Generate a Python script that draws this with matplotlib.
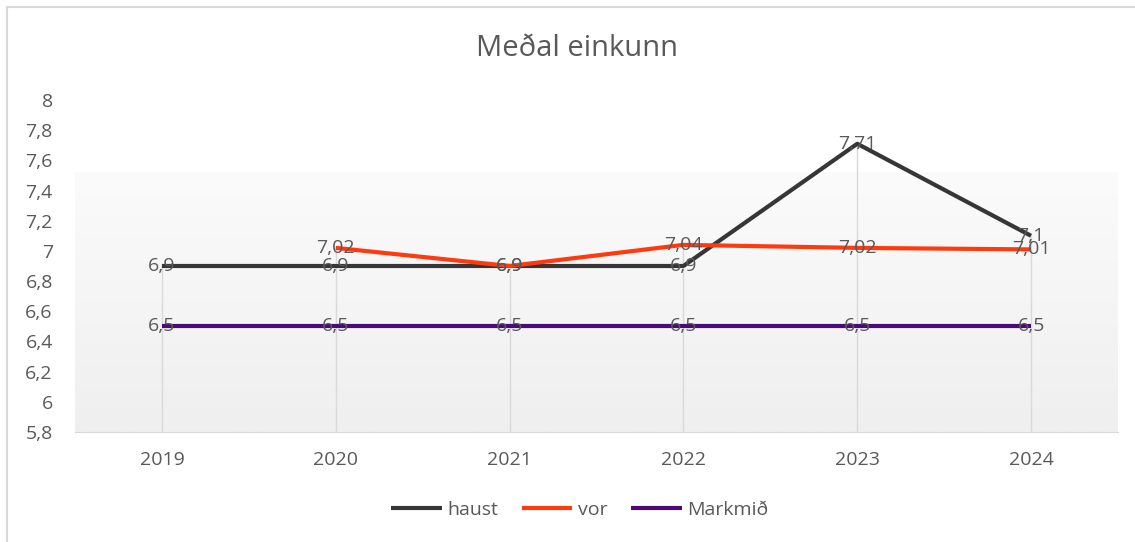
import numpy as np
import matplotlib.pyplot as plt
from matplotlib.patches import Rectangle
from matplotlib.colors import LinearSegmentedColormap
from matplotlib.ticker import FuncFormatter

plt.rcParams['font.family'] = ['Open Sans', 'DejaVu Sans']

# chart data
years = ['2019', '2020', '2021', '2022', '2023', '2024']
haust = [6.9, 6.9, 6.9, 6.9, 7.71, 7.1]
vor = [np.nan, 7.02, 6.9, 7.04, 7.02, 7.01]
markmid = [6.5, 6.5, 6.5, 6.5, 6.5, 6.5]

series = [('haust', haust, '#363636'),
          ('vor', vor, '#ff3a0f'),
          ('Markmið', markmid, '#4a0a78')]
text_col = '#595959'


def comma(v):
    return f'{v:g}'.replace('.', ',')


fig = plt.figure(figsize=(11.35, 5.42), dpi=100)
ax = fig.add_axes([75 / 1135, 1 - 432 / 542, (1118 - 75) / 1135, 332 / 542])
x = np.arange(len(years))

# chart border (only top and left edges fall inside the picture)
fig.patches.append(Rectangle((7 / 1135, -0.05), 1.2, 1 - 7 / 542 + 0.05,
                             transform=fig.transFigure, fill=False,
                             edgecolor='#d9d9d9', lw=1.5))

ax.set_xlim(-0.5, 5.5)
ax.set_ylim(5.8, 8)

# soft gradient in the lower part of the plot area
grad = np.linspace(0, 1, 100).reshape(-1, 1)
ax.imshow(grad, extent=(-0.5, 5.5, 5.8, 7.52), aspect='auto', origin='upper',
          cmap=LinearSegmentedColormap.from_list('g', ['#fbfbfb', '#efefef']),
          zorder=0)

# drop lines from the highest point of each year
tops = np.nanmax(np.array([haust, vor, markmid]), axis=0)
ax.vlines(x, 5.8, tops, color='#d9d9d9', lw=1, zorder=1)

for name, vals, col in series:
    ax.plot(x, vals, color=col, lw=3, label=name, zorder=3,
            solid_capstyle='butt')
    for xi, v in zip(x, vals):
        if np.isnan(v):
            continue
        ax.text(xi, v, comma(v), ha='center', va='center', fontsize=14,
                color=text_col, zorder=4)

ax.set_xticks(x)
ax.set_xticklabels(years)
ax.set_yticks(np.arange(5.8, 8.01, 0.2))
ax.yaxis.set_major_formatter(FuncFormatter(lambda v, p: comma(round(v, 1))))
ax.tick_params(length=0, labelsize=14, colors=text_col)
ax.tick_params(axis='x', pad=14)
ax.tick_params(axis='y', pad=16)

for s in ['top', 'right', 'left']:
    ax.spines[s].set_visible(False)
ax.spines['bottom'].set_color('#d9d9d9')

fig.text(577 / 1135, 1 - 49 / 542, 'Meðal einkunn', ha='center', va='center',
         fontsize=21, color=text_col)

fig.legend(loc='center', bbox_to_anchor=(580 / 1135, 1 - 510 / 542), ncol=3,
           frameon=False, fontsize=14, handlelength=2.6, handletextpad=0.3,
           columnspacing=1.2, labelcolor=text_col)

fig.savefig('out.png', dpi=100)
